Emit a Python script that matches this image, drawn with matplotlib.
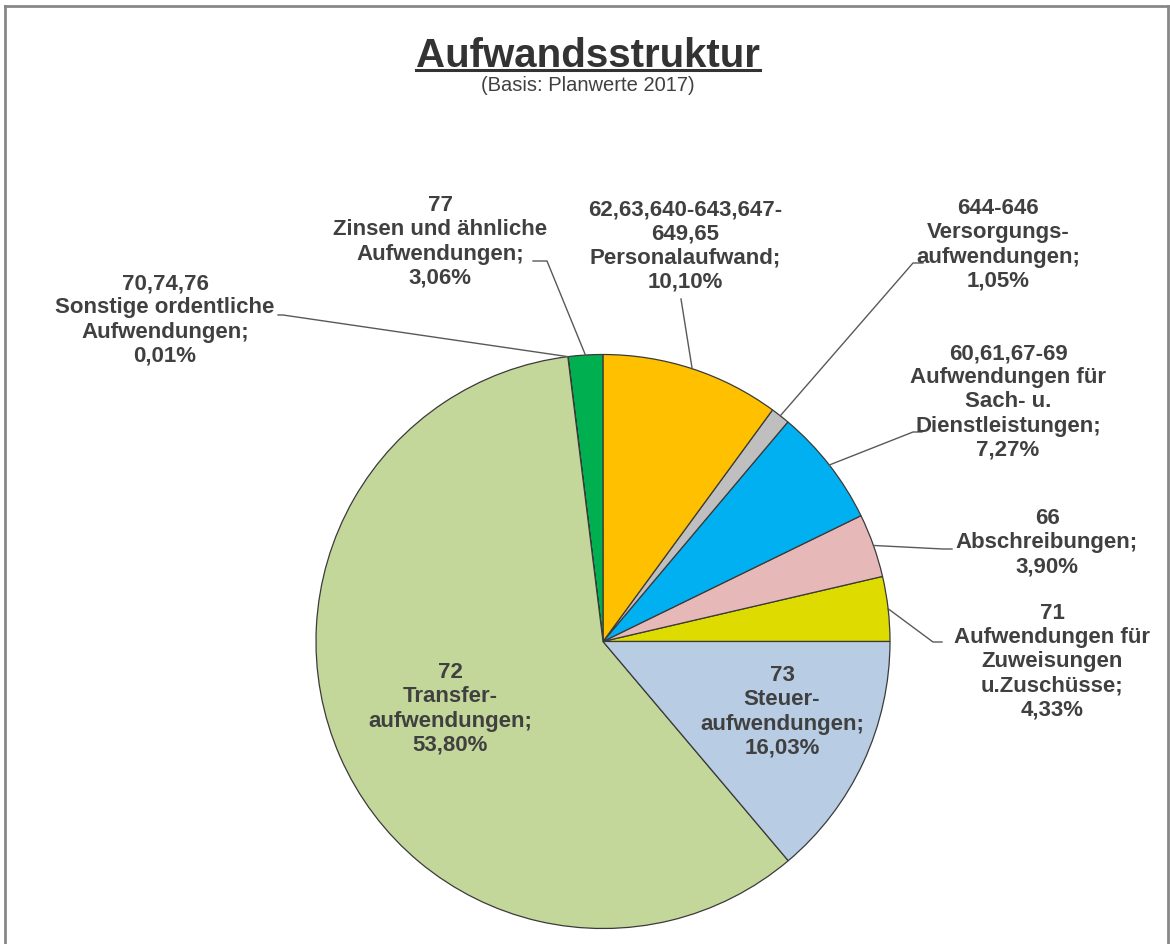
"""Aufwandsstruktur (Basis: Planwerte 2017) - pie chart with outside labels."""

import matplotlib.pyplot as plt
import numpy as np
from matplotlib.lines import Line2D

plt.rcParams["font.family"] = ["Liberation Sans", "DejaVu Sans"]

# Slice shares as drawn in the chart (counter-clockwise from 3 o'clock)
accounts = ["71", "66", "60,61,67-69", "644-646", "62,63,640-643,647-\n649,65",
            "77", "70,74,76", "72", "73"]
names = ["Aufwendungen für\nZuweisungen\nu.Zuschüsse;", "Abschreibungen;",
         "Aufwendungen für\nSach- u.\nDienstleistungen;", "Versorgungs-\naufwendungen;",
         "Personalaufwand;", "Zinsen und ähnliche\nAufwendungen;",
         "Sonstige ordentliche\nAufwendungen;", "Transfer-\naufwendungen;",
         "Steuer-\naufwendungen;"]
pct_labels = ["4,33%", "3,90%", "7,27%", "1,05%", "10,10%", "3,06%", "0,01%",
              "53,80%", "16,03%"]
shares = [3.64, 3.58, 6.64, 1.08, 10.06, 1.94, 0.01, 59.2, 13.83]
colors = ["#DDDB00", "#E6B9B8", "#00B0F0", "#BFBFBF", "#FFC000", "#00B050",
          "#7F7F7F", "#C4D79B", "#B8CCE4"]

W, H = 1170, 945
TXT = "#404040"

# label layout in pixel coords (x, y from top)
label_pos = [(1052, 662), (1047, 543), (1008, 402), (998, 245), (685, 246),
             (440, 242), (165, 320), (450, 709), (782, 712)]
elbows = [[(942, 643), (933, 643)], [(952, 550), (943, 550)],
          [(922, 433), (913, 433)], [(923, 264), (913, 264)],
          [(681, 300)], [(533, 262), (547, 262)], [(278, 316), (283, 316)],
          None, None]

fig = plt.figure(figsize=(W / 100, H / 100), dpi=100)
ax = fig.add_axes([0, 0, 1, 1])

center = (603, H - 642.5)
radius = 287
wedges, _ = ax.pie(shares, colors=colors, startangle=0, counterclock=True,
                   center=center, radius=radius,
                   wedgeprops=dict(edgecolor="#3a3a3a", linewidth=0.9))
ax.set_xlim(0, W)
ax.set_ylim(0, H)
ax.set_aspect("equal")
ax.axis("off")

for w, acc, name, pct, pos, elb in zip(wedges, accounts, names, pct_labels,
                                       label_pos, elbows):
    txt = f"{acc}\n{name}\n{pct}"
    ax.text(pos[0], H - pos[1], txt, ha="center", va="center", fontsize=16,
            fontweight="bold", color=TXT, linespacing=1.2, zorder=5)
    if elb is None:
        continue
    mid = np.deg2rad((w.theta1 + w.theta2) / 2)
    ax_pt = (center[0] + radius * np.cos(mid), center[1] + radius * np.sin(mid))
    xs = [p[0] for p in elb] + [ax_pt[0]]
    ys = [H - p[1] for p in elb] + [ax_pt[1]]
    ax.plot(xs, ys, color="#595959", lw=1.0, zorder=4)

# title with underline
title = ax.text(588, H - 67, "Aufwandsstruktur", ha="center", va="baseline",
                fontsize=29, fontweight="bold", color="#333333")
ax.text(588, H - 86, "(Basis: Planwerte 2017)", ha="center", va="center",
        fontsize=14.5, color=TXT)
fig.canvas.draw()
bb = title.get_window_extent()
fig.add_artist(Line2D([bb.x0 / W, bb.x1 / W], [(H - 71) / H, (H - 71) / H],
                      transform=fig.transFigure, color="#333333", lw=2.2))

# chart-area border (top, left, right)
bc = "#878787"
for xs, ys in [([5, 1168], [7, 7]), ([5, 5], [7, H]), ([1168, 1168], [7, H])]:
    fig.add_artist(Line2D([x / W for x in xs], [(H - y) / H for y in ys],
                          transform=fig.transFigure, color=bc, lw=2.0))

fig.savefig("out.png", dpi=100)
